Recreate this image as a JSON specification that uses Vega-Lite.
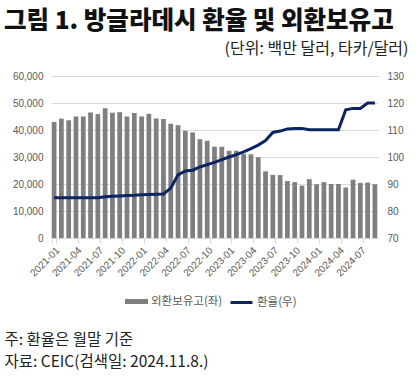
{
  "$schema": "https://vega.github.io/schema/vega-lite/v6.json",
  "width": 327,
  "height": 162,
  "autosize": {"type": "none"},
  "padding": {"left": 51, "top": 76, "right": 42, "bottom": 139},
  "background": "white",
  "title": {"text": "그림 1. 방글라데시 환율 및 외환보유고", "anchor": "start", "frame": "group", "dx": -47, "dy": -2, "font": "Noto Sans CJK KR", "fontWeight": 900, "fontSize": 24.5, "color": "#111111"},
  "config": {"view": {"stroke": null}},
  "data": {"values": [
    {"month": "2021-01", "reserves": 43000, "rate": 84.9},
    {"month": "2021-02", "reserves": 44200, "rate": 84.9},
    {"month": "2021-03", "reserves": 43600, "rate": 84.9},
    {"month": "2021-04", "reserves": 45000, "rate": 84.9},
    {"month": "2021-05", "reserves": 45000, "rate": 84.9},
    {"month": "2021-06", "reserves": 46500, "rate": 84.9},
    {"month": "2021-07", "reserves": 45900, "rate": 84.9},
    {"month": "2021-08", "reserves": 48100, "rate": 85.3},
    {"month": "2021-09", "reserves": 46400, "rate": 85.5},
    {"month": "2021-10", "reserves": 46600, "rate": 85.6},
    {"month": "2021-11", "reserves": 45000, "rate": 85.7},
    {"month": "2021-12", "reserves": 46300, "rate": 85.8},
    {"month": "2022-01", "reserves": 45000, "rate": 86.0},
    {"month": "2022-02", "reserves": 46000, "rate": 86.1},
    {"month": "2022-03", "reserves": 44300, "rate": 86.2},
    {"month": "2022-04", "reserves": 44100, "rate": 86.3},
    {"month": "2022-05", "reserves": 42300, "rate": 88.5},
    {"month": "2022-06", "reserves": 41800, "rate": 93.4},
    {"month": "2022-07", "reserves": 39700, "rate": 94.8},
    {"month": "2022-08", "reserves": 39100, "rate": 95.1},
    {"month": "2022-09", "reserves": 36600, "rate": 96.3},
    {"month": "2022-10", "reserves": 36000, "rate": 97.2},
    {"month": "2022-11", "reserves": 33800, "rate": 98.0},
    {"month": "2022-12", "reserves": 33800, "rate": 99.0},
    {"month": "2023-01", "reserves": 32300, "rate": 100.0},
    {"month": "2023-02", "reserves": 32300, "rate": 100.9},
    {"month": "2023-03", "reserves": 31100, "rate": 101.9},
    {"month": "2023-04", "reserves": 31000, "rate": 103.1},
    {"month": "2023-05", "reserves": 29900, "rate": 104.4},
    {"month": "2023-06", "reserves": 24700, "rate": 106.1},
    {"month": "2023-07", "reserves": 23400, "rate": 109.1},
    {"month": "2023-08", "reserves": 23300, "rate": 109.6},
    {"month": "2023-09", "reserves": 21100, "rate": 110.4},
    {"month": "2023-10", "reserves": 20700, "rate": 110.6},
    {"month": "2023-11", "reserves": 19400, "rate": 110.6},
    {"month": "2023-12", "reserves": 21800, "rate": 110.1},
    {"month": "2024-01", "reserves": 19900, "rate": 110.1},
    {"month": "2024-02", "reserves": 20700, "rate": 110.1},
    {"month": "2024-03", "reserves": 20000, "rate": 110.1},
    {"month": "2024-04", "reserves": 20000, "rate": 110.1},
    {"month": "2024-05", "reserves": 18700, "rate": 117.5},
    {"month": "2024-06", "reserves": 21600, "rate": 118.0},
    {"month": "2024-07", "reserves": 20400, "rate": 118.0},
    {"month": "2024-08", "reserves": 20500, "rate": 120.0},
    {"month": "2024-09", "reserves": 19900, "rate": 120.0}
  ]},
  "encoding": {
    "x": {
      "field": "month", "type": "ordinal",
      "scale": {"paddingInner": 0.35, "paddingOuter": 0.1},
      "axis": {
        "values": ["2021-01","2021-04","2021-07","2021-10","2022-01","2022-04","2022-07","2022-10","2023-01","2023-04","2023-07","2023-10","2024-01","2024-04","2024-07"],
        "labelAngle": -45, "labelFontSize": 10, "labelColor": "#595959", "labelFont": "Liberation Sans",
        "domainColor": "#d9d9d9", "tickColor": "#d9d9d9", "tickSize": 5, "tickBand": "extent", "grid": false,
        "title": ["주: 환율은 월말 기준", "자료: CEIC(검색일: 2024.11.8.)"],
        "titleX": -47, "titleY": 94, "titleAlign": "left", "titleAnchor": null, "titleBaseline": "top",
        "titleFont": "Noto Sans CJK KR", "titleFontSize": 15.5, "titleFontWeight": "normal", "titleColor": "#222222", "titleLineHeight": 22
      }
    }
  },
  "layer": [
    {
      "mark": {"type": "bar"},
      "encoding": {
        "y": {
          "field": "reserves", "type": "quantitative",
          "scale": {"domain": [0, 60000]},
          "axis": {
            "values": [0,10000,20000,30000,40000,50000,60000], "format": ",.0f",
            "labelColor": "#595959", "labelFontSize": 10, "labelFont": "Liberation Sans", "labelPadding": 8,
            "domain": false, "ticks": false, "grid": true, "gridColor": "#d9d9d9",
            "title": "(단위: 백만 달러, 타카/달러)", "titleAngle": 0, "titleX": 357, "titleY": -28,
            "titleAlign": "right", "titleBaseline": "middle", "titleFont": "Noto Sans CJK KR",
            "titleFontSize": 16, "titleFontWeight": "normal", "titleColor": "#222222"
          }
        },
        "fill": {
          "datum": "외환보유고(좌)", "type": "nominal",
          "scale": {"range": ["#7f7f7f"]},
          "legend": {
            "orient": "none", "legendX": 74, "legendY": 214, "title": null,
            "symbolType": "M-1,-0.22H1V0.22H-1Z", "symbolSize": 529, "symbolStrokeWidth": 0,
            "labelFont": "Noto Sans CJK KR", "labelFontSize": 11.5, "labelColor": "#595959", "labelOffset": 3
          }
        }
      }
    },
    {
      "mark": {"type": "line", "strokeWidth": 3},
      "encoding": {
        "y": {
          "field": "rate", "type": "quantitative",
          "scale": {"domain": [70, 130]},
          "axis": {
            "orient": "right", "values": [70,80,90,100,110,120,130],
            "labelColor": "#595959", "labelFontSize": 10, "labelFont": "Liberation Sans", "labelPadding": 9,
            "domain": false, "ticks": false, "grid": false, "title": null
          }
        },
        "stroke": {
          "datum": "환율(우)", "type": "nominal",
          "scale": {"range": ["#0c2461"]},
          "legend": {
            "orient": "none", "legendX": 178, "legendY": 214, "title": null,
            "symbolType": "stroke", "symbolSize": 484, "symbolStrokeWidth": 3,
            "labelFont": "Noto Sans CJK KR", "labelFontSize": 11.5, "labelColor": "#595959", "labelOffset": 3
          }
        }
      }
    }
  ],
  "resolve": {"scale": {"y": "independent", "fill": "independent", "stroke": "independent"}}
}
